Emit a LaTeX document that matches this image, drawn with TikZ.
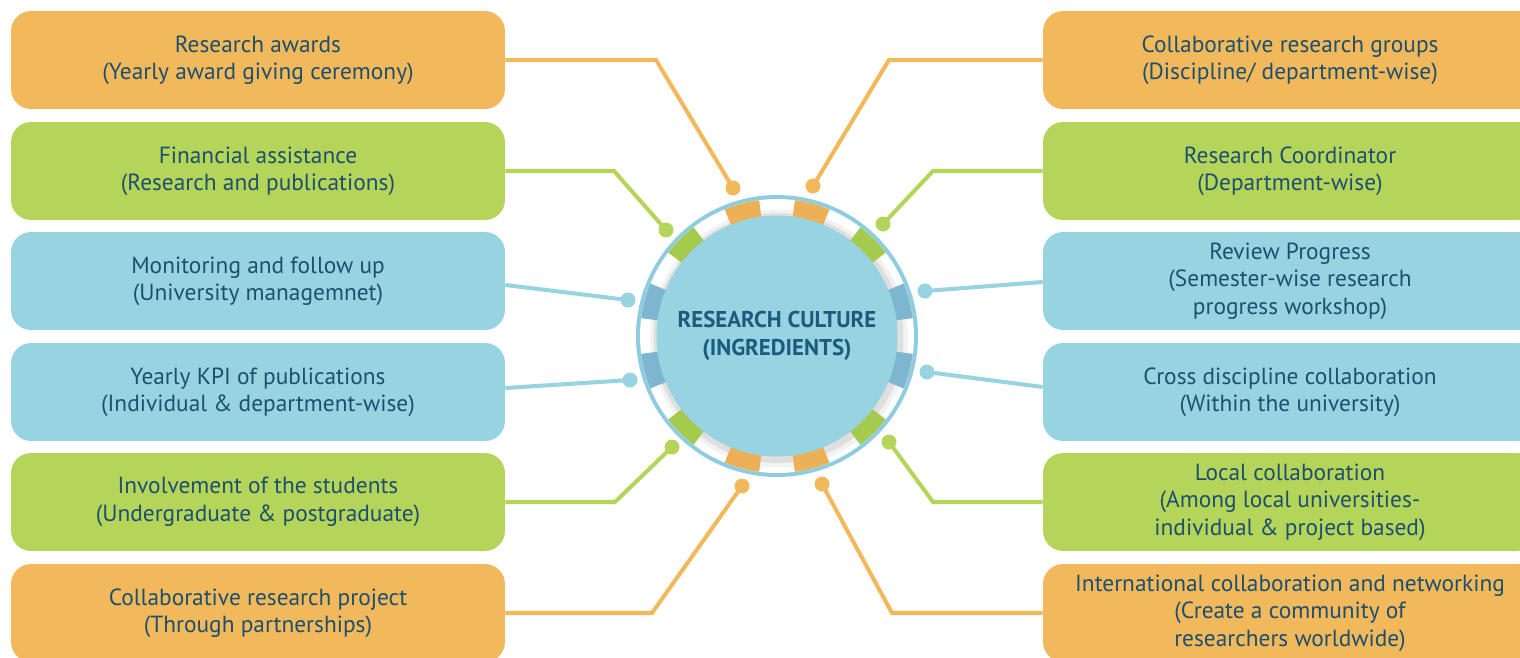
\documentclass[tikz,border=0pt]{standalone}
\usepackage{fontspec}
\setmainfont{PT Sans}
\usetikzlibrary{positioning}

\definecolor{boxorange}{RGB}{242,184,92}
\definecolor{boxgreen}{RGB}{181,213,90}
\definecolor{boxblue}{RGB}{152,211,226}
\definecolor{segorange}{RGB}{236,176,86}
\definecolor{seggreen}{RGB}{166,202,78}
\definecolor{segblue}{RGB}{126,182,208}
\definecolor{hubblue}{RGB}{151,211,225}
\definecolor{ringblue}{RGB}{142,205,224}
\definecolor{textblue}{RGB}{29,79,110}
\definecolor{hubtext}{RGB}{27,91,126}

\tikzset{
  ingredient/.style={rounded corners=0.4cm, minimum width=9.88cm, minimum height=1.96cm,
    align=center, text=textblue, font=\fontsize{13.3}{15.6}\selectfont, inner sep=0pt},
  link/.style={line width=2.3pt},
  pin/.style={circle, inner sep=0pt, minimum size=0.3cm}
}

\begin{document}
\begin{tikzpicture}[x=0.02cm,y=-0.02cm]
  \useasboundingbox (0,0) rectangle (1520,657);
  \clip (0,0) rectangle (1520,657);

  % left column
  \node[ingredient, fill=boxorange] (l1) at (258,60) {Research awards\\(Yearly award giving ceremony)};
  \node[ingredient, fill=boxgreen] (l2) at (258,171) {Financial assistance\\(Research and publications)};
  \node[ingredient, fill=boxblue] (l3) at (258,281) {Monitoring and follow up\\(University managemnet)};
  \node[ingredient, fill=boxblue] (l4) at (258,392) {Yearly KPI of publications\\(Individual \& department-wise)};
  \node[ingredient, fill=boxgreen] (l5) at (258,502) {Involvement of the students\\(Undergraduate \& postgraduate)};
  \node[ingredient, fill=boxorange] (l6) at (258,613) {Collaborative research project\\(Through partnerships)};

  % right column
  \node[ingredient, fill=boxorange] (r1) at (1290,60) {Collaborative research groups\\(Discipline/ department-wise)};
  \node[ingredient, fill=boxgreen] (r2) at (1290,171) {Research Coordinator\\(Department-wise)};
  \node[ingredient, fill=boxblue] (r3) at (1290,281) {Review Progress\\(Semester-wise research\\progress workshop)};
  \node[ingredient, fill=boxblue] (r4) at (1290,392) {Cross discipline collaboration\\(Within the university)};
  \node[ingredient, fill=boxgreen] (r5) at (1290,502) {Local collaboration\\(Among local universities-\\individual \& project based)};
  \node[ingredient, fill=boxorange] (r6) at (1290,613) {International collaboration and networking\\(Create a community of\\researchers worldwide)};

  % hub
  \coordinate (hub) at (777,336);
  \fill[ringblue] (hub) circle (2.82cm);
  \fill[white] (hub) circle (2.74cm);
  \begin{scope}[shift={(hub)}, x=1cm, y=1cm]
    % soft shadow under the disc
    \fill[black, opacity=0.05] (0.04,-0.05) circle (2.58cm);
    \fill[black, opacity=0.08] (0.03,-0.04) circle (2.5cm);
    \foreach \a/\c in {15/segblue, 45/seggreen, 75/segorange, 105/segorange, 135/seggreen, 165/segblue,
                       -15/segblue, -45/seggreen, -75/segorange, -105/segorange, -135/seggreen, -165/segblue}
      \fill[\c] (\a-7.5:2.4cm) arc[start angle=\a-7.5, end angle=\a+7.5, radius=2.4cm]
        -- (\a+7.5:2.74cm) arc[start angle=\a+7.5, end angle=\a-7.5, radius=2.74cm] -- cycle;
  \end{scope}
  \node[circle, fill=hubblue, minimum size=4.82cm, inner sep=0pt, align=center,
        text=hubtext, font=\bfseries\fontsize{13}{16}\selectfont] (core) at (hub)
        {RESEARCH CULTURE\\(INGREDIENTS)};

  % pins near the hub
  \node[pin, fill=boxorange] (p1) at (733,188) {};
  \node[pin, fill=boxgreen] (p2) at (666,230) {};
  \node[pin, fill=boxblue] (p3) at (628,300) {};
  \node[pin, fill=boxblue] (p4) at (630,380) {};
  \node[pin, fill=boxgreen] (p5) at (672,447) {};
  \node[pin, fill=boxorange] (p6) at (742,486) {};
  \node[pin, fill=boxorange] (q1) at (813,186) {};
  \node[pin, fill=boxgreen] (q2) at (883,224) {};
  \node[pin, fill=boxblue] (q3) at (925,291) {};
  \node[pin, fill=boxblue] (q4) at (927,372) {};
  \node[pin, fill=boxgreen] (q5) at (889,442) {};
  \node[pin, fill=boxorange] (q6) at (822,484) {};

  % connectors
  \draw[link, boxorange] (l1.east) -- (l1.east -| 656,0) -- (p1.center);
  \draw[link, boxgreen] (l2.east) -- (l2.east -| 614,0) -- (p2.center);
  \draw[link, boxblue] ([yshift=-0.08cm]l3.east) -- (p3.center);
  \draw[link, boxblue] ([yshift=0.08cm]l4.east) -- (p4.center);
  \draw[link, boxgreen] (l5.east) -- (l5.east -| 615,0) -- (p5.center);
  \draw[link, boxorange] (l6.east) -- (l6.east -| 652,0) -- (p6.center);
  \draw[link, boxorange] (r1.west) -- (r1.west -| 889,0) -- (q1.center);
  \draw[link, boxgreen] (r2.west) -- (r2.west -| 933,0) -- (q2.center);
  \draw[link, boxblue] ([yshift=-0.02cm]r3.west) -- (q3.center);
  \draw[link, boxblue] ([yshift=0.1cm]r4.west) -- (q4.center);
  \draw[link, boxgreen] (r5.west) -- (r5.west -| 933,0) -- (q5.center);
  \draw[link, boxorange] (r6.west) -- (r6.west -| 892,0) -- (q6.center);
\end{tikzpicture}
\end{document}
